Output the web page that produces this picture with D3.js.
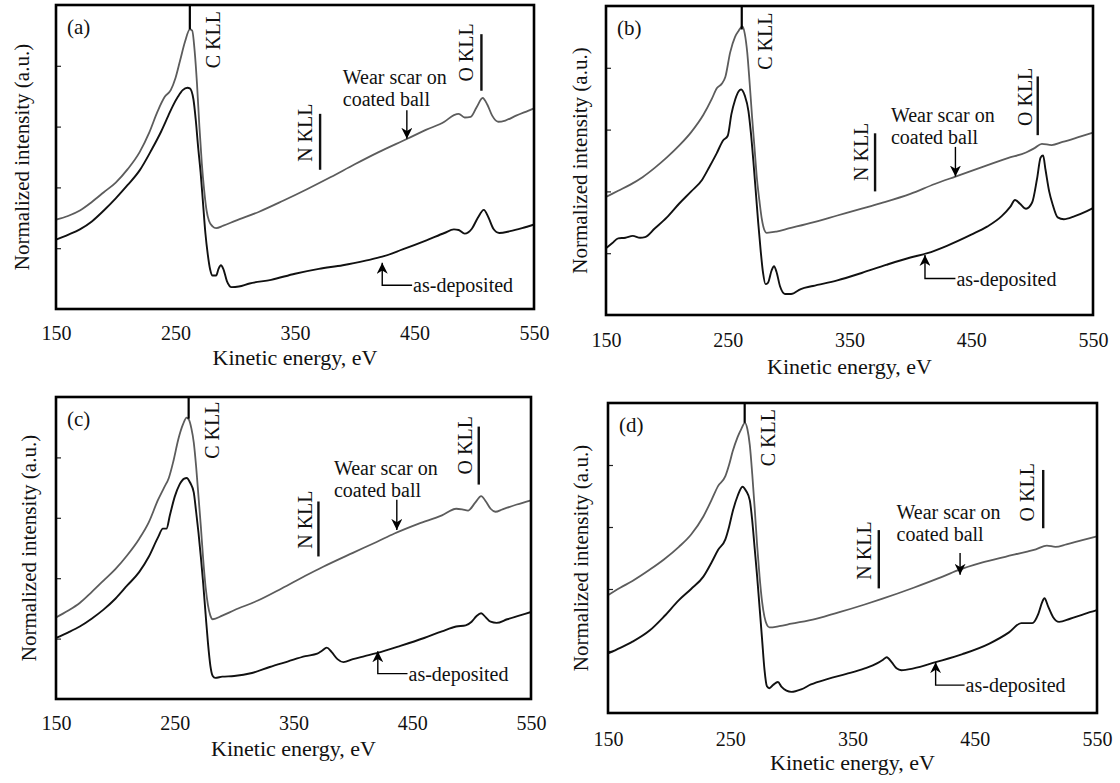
<!DOCTYPE html>
<html><head><meta charset="utf-8">
<script src="https://cdn.jsdelivr.net/npm/d3@7"></script>
<style>
html,body{margin:0;padding:0;background:#fff;}
svg{display:block;}
text{font-family:"Liberation Serif","Times New Roman",serif;fill:#111;}
</style></head>
<body>
<svg id="chart" width="1120" height="783"></svg>
<script>
// ---------- data (kinetic energy eV, normalized intensity a.u.) ----------
const xTickValues = [150, 250, 350, 450, 550];
const yTickValues = [1, 2, 3, 4];
const panelNames = ["(a)", "(b)", "(c)", "(d)"];
const xAxisTitle = "Kinetic energy, eV";
const yAxisTitle = "Normalized intensity (a.u.)";

const wearA = [[150,1.47],[160,1.53],[170,1.62],[180,1.76],[190,1.92],[200,2.08],[210,2.30],[220,2.58],[228,2.90],[235,3.25],[241,3.49],[246,3.60],[250,3.80],[254,4.10],[258,4.40],[262,4.60],[264,4.58],[266,4.25],[268,3.70],[270,3.00],[272,2.40],[274,1.95],[276,1.62],[278,1.45],[281,1.36],[284,1.33],[290,1.37],[300,1.45],[320,1.60],[340,1.78],[360,1.97],[380,2.17],[400,2.38],[420,2.58],[444,2.80],[460,2.95],[475,3.08],[483,3.19],[487,3.21],[492,3.15],[497,3.16],[502,3.32],[507,3.47],[511,3.36],[515,3.18],[520,3.08],[526,3.10],[535,3.18],[545,3.26],[550,3.30]];
const asdepA = [[150,1.14],[160,1.22],[170,1.31],[180,1.44],[190,1.62],[200,1.82],[210,2.04],[220,2.28],[230,2.62],[238,2.92],[244,3.18],[248,3.35],[252,3.49],[256,3.60],[260,3.64],[262,3.63],[265,3.45],[267,3.10],[269,2.65],[271,2.25],[273,1.75],[275,1.25],[277,0.90],[279,0.65],[281,0.55],[284,0.55],[286,0.66],[288,0.72],[290,0.66],[293,0.46],[297,0.36],[303,0.37],[312,0.42],[330,0.48],[350,0.58],[370,0.66],[390,0.72],[410,0.80],[423,0.86],[440,0.98],[460,1.13],[475,1.25],[483,1.31],[487,1.30],[492,1.24],[498,1.32],[503,1.50],[508,1.63],[512,1.50],[516,1.32],[521,1.25],[530,1.28],[540,1.33],[550,1.39]];

const wearB = [[150,1.91],[160,2.01],[170,2.11],[180,2.23],[190,2.38],[200,2.55],[210,2.74],[220,2.96],[230,3.24],[237,3.50],[241,3.67],[245,3.74],[248,3.85],[252,4.25],[256,4.50],[259,4.60],[262,4.67],[264,4.55],[266,4.25],[268,3.75],[270,3.20],[272,2.70],[274,2.20],[276,1.85],[278,1.55],[280,1.38],[282,1.33],[290,1.35],[300,1.40],[320,1.50],[340,1.61],[360,1.72],[376,1.81],[400,1.96],[420,2.12],[437,2.24],[460,2.40],[480,2.54],[495,2.63],[502,2.70],[508,2.77],[516,2.75],[525,2.80],[540,2.89],[550,2.95]];
const asdepB = [[150,1.08],[155,1.16],[160,1.24],[166,1.25],[172,1.28],[178,1.25],[182,1.26],[190,1.40],[200,1.58],[210,1.80],[220,2.00],[229,2.19],[235,2.40],[241,2.62],[246,2.82],[250,2.90],[253,3.25],[256,3.48],[259,3.62],[261,3.65],[264,3.55],[267,3.30],[269,2.95],[271,2.50],[273,2.00],[275,1.50],[277,1.05],[279,0.68],[281,0.50],[283,0.52],[286,0.72],[288,0.79],[290,0.70],[293,0.46],[297,0.34],[302,0.34],[310,0.42],[320,0.47],[340,0.56],[360,0.68],[380,0.81],[400,0.93],[414,1.00],[430,1.12],[450,1.30],[463,1.43],[475,1.60],[482,1.75],[486,1.86],[490,1.80],[495,1.72],[500,1.82],[504,2.20],[507,2.55],[509,2.58],[511,2.35],[514,2.00],[517,1.78],[521,1.58],[526,1.55],[535,1.60],[545,1.68],[550,1.73]];

const wearC = [[150,1.35],[160,1.46],[170,1.59],[180,1.77],[190,1.96],[200,2.15],[210,2.38],[220,2.65],[228,2.92],[236,3.30],[241,3.50],[245,3.66],[249,3.95],[253,4.30],[257,4.55],[260,4.66],[262,4.62],[264,4.48],[266,4.25],[268,3.85],[270,3.35],[272,2.85],[274,2.30],[276,1.85],[278,1.55],[280,1.38],[282,1.32],[290,1.38],[300,1.47],[320,1.63],[340,1.83],[360,2.04],[375,2.19],[400,2.42],[420,2.60],[435,2.74],[455,2.90],[475,3.04],[487,3.15],[492,3.14],[497,3.12],[503,3.25],[508,3.36],[512,3.27],[516,3.15],[520,3.10],[526,3.14],[538,3.22],[550,3.29]];
const asdepC = [[150,1.01],[160,1.10],[170,1.20],[180,1.33],[190,1.48],[200,1.66],[210,1.88],[220,2.10],[228,2.35],[236,2.68],[240,2.82],[243,2.82],[246,3.05],[250,3.35],[254,3.55],[258,3.65],[260,3.66],[263,3.58],[266,3.42],[268,3.10],[270,2.75],[272,2.35],[274,1.90],[276,1.40],[278,0.92],[280,0.55],[282,0.38],[284,0.35],[290,0.37],[300,0.38],[315,0.43],[330,0.53],[345,0.62],[360,0.71],[370,0.75],[374,0.80],[378,0.85],[382,0.78],[387,0.66],[392,0.61],[400,0.66],[410,0.71],[420,0.76],[440,0.88],[460,1.01],[475,1.12],[487,1.20],[495,1.22],[500,1.28],[504,1.37],[508,1.42],[512,1.35],[516,1.28],[521,1.26],[530,1.32],[540,1.38],[550,1.44]];

const wearD = [[150,1.90],[160,2.02],[170,2.13],[184,2.31],[196,2.48],[208,2.68],[218,2.88],[228,3.17],[235,3.45],[240,3.66],[246,3.82],[249,4.00],[252,4.22],[256,4.45],[259,4.58],[262,4.68],[264,4.58],[266,4.32],[268,3.85],[270,3.30],[272,2.70],[274,2.20],[276,1.80],[278,1.55],[280,1.42],[282,1.38],[290,1.40],[300,1.44],[320,1.52],[340,1.63],[360,1.75],[374,1.84],[400,2.02],[420,2.17],[436,2.30],[455,2.42],[475,2.52],[492,2.60],[500,2.64],[509,2.70],[516,2.68],[525,2.72],[538,2.79],[550,2.85]];
const asdepD = [[150,0.96],[160,1.05],[170,1.15],[184,1.33],[196,1.56],[208,1.82],[218,2.00],[228,2.20],[235,2.44],[240,2.63],[246,2.80],[249,3.00],[252,3.25],[256,3.50],[260,3.65],[263,3.58],[266,3.43],[268,3.10],[270,2.65],[272,2.20],[274,1.70],[276,1.20],[278,0.70],[280,0.43],[282,0.40],[285,0.45],[289,0.50],[292,0.42],[296,0.36],[300,0.34],[308,0.38],[316,0.46],[330,0.55],[345,0.63],[360,0.72],[370,0.80],[375,0.86],[378,0.90],[382,0.82],[386,0.72],[390,0.69],[400,0.72],[418,0.82],[440,0.95],[462,1.12],[478,1.30],[488,1.45],[497,1.45],[502,1.60],[505,1.78],[507,1.85],[510,1.72],[514,1.55],[519,1.47],[528,1.52],[540,1.60],[550,1.66]];

// annotation anchors in data units: [eV, intensity]
const cKllLine  = [[262,4.60],[261.5,4.62],[261.7,4.64],[261.8,4.68]];
const cKllText  = [[281,4.43],[280.5,4.43],[281,4.45],[281,4.44]];
const nKllLine  = [[371,3.21,2.29],[371,2.94,2.00],[371,3.27,2.36],[371.5,2.95,2.01]];
const nKllText  = [[358.6,2.90],[359.5,2.64],[360,2.97],[359.8,2.62]];
const oKllLine  = [[506,4.52,3.59],[504.6,3.86,2.91],[506,4.51,3.55],[506,3.92,2.98]];
const oKllText  = [[493,4.22],[494,3.53],[494,4.20],[493,3.56]];
const wearText  = [[390,3.81,3.45],[384,3.23,2.87],[384,3.82,3.46],[386,3.24,2.88]];
const wearArrow = [[443.6,3.27,2.80],[437,2.72,2.24],[437,3.30,2.80],[438,2.58,2.23]];
const asdepArrow= [[423,0.76,0.39,448],[412,0.97,0.59,437],[421,0.79,0.42,446],[418,0.82,0.45,441.7]];

const wearSeries = [wearA, wearB, wearC, wearD];
const asdepSeries = [asdepA, asdepB, asdepC, asdepD];

// ---------- layout ----------
const boxes = [
  {x0:56,  x1:534,  y0:5,   y1:309, ylab:22,  tpad:17, tlab:48},
  {x0:606, x1:1093, y0:6,   y1:315, ylab:580, tpad:18, tlab:51},
  {x0:56,  x1:531,  y0:397, y1:699, ylab:29,  tpad:17, tlab:49},
  {x0:608, x1:1097, y0:403, y1:713, ylab:581, tpad:19, tlab:49}
];

const svg = d3.select("#chart");
const defs = svg.append("defs");
defs.append("marker").attr("id","arr").attr("viewBox","0 0 10 10")
  .attr("refX",10).attr("refY",5).attr("markerWidth",11).attr("markerHeight",11)
  .attr("markerUnits","userSpaceOnUse").attr("orient","auto")
  .append("path").attr("d","M0,0 L10,5 L0,10 L3,5 Z").attr("fill","#000");

const FS = 20;

boxes.forEach((b, i) => {
  const x = d3.scaleLinear().domain([150,550]).range([b.x0,b.x1]);
  const y = d3.scaleLinear().domain([0,5]).range([b.y1,b.y0]);
  const g = svg.append("g");

  // y ticks (inward, no labels)
  const ya = g.append("g").attr("transform",`translate(${b.x0},0)`)
    .call(d3.axisLeft(y).tickValues(yTickValues).tickSizeInner(-5).tickSizeOuter(0).tickFormat(""));
  ya.select(".domain").remove();
  ya.selectAll("line").attr("stroke","#222").attr("stroke-width",1.2);

  // x tick labels
  const xa = g.append("g").attr("transform",`translate(0,${b.y1})`)
    .call(d3.axisBottom(x).tickValues(xTickValues).tickSize(0).tickPadding(b.tpad).tickFormat(d3.format("d")));
  xa.attr("font-family","Liberation Serif").attr("font-size",20);
  xa.select(".domain").remove();
  xa.selectAll("text").style("font-family","Liberation Serif").style("font-size","20px").attr("fill","#222");

  // axis titles
  g.append("text").attr("x",(b.x0+b.x1)/2).attr("y",b.y1+b.tlab).attr("dy","0.35em")
    .attr("text-anchor","middle").style("font-size","22px").text(xAxisTitle);
  g.append("text").attr("transform",`translate(${b.ylab},${(b.y0+b.y1)/2}) rotate(-90)`)
    .attr("dy","0.35em").attr("text-anchor","middle").style("font-size","21px").text(yAxisTitle);

  // curves
  const line = d3.line().x(d=>x(d[0])).y(d=>y(d[1])).curve(d3.curveMonotoneX);
  g.append("path").datum(wearSeries[i]).attr("d",line)
    .attr("fill","none").attr("stroke","#5c5c5c").attr("stroke-width",1.8);
  g.append("path").datum(asdepSeries[i]).attr("d",line)
    .attr("fill","none").attr("stroke","#111").attr("stroke-width",1.9);

  // frame
  g.append("rect").attr("x",b.x0).attr("y",b.y0).attr("width",b.x1-b.x0).attr("height",b.y1-b.y0)
    .attr("fill","none").attr("stroke","#000").attr("stroke-width",2.6);

  // panel label
  g.append("text").attr("x",b.x0+11).attr("y",b.y0+29).style("font-size","21px").text(panelNames[i]);

  // C KLL marker
  g.append("line").attr("x1",x(cKllLine[i][0])).attr("x2",x(cKllLine[i][0]))
    .attr("y1",y(5)).attr("y2",y(cKllLine[i][1])).attr("stroke","#000").attr("stroke-width",2.2);
  g.append("text").attr("transform",`translate(${x(cKllText[i][0])},${y(cKllText[i][1])}) rotate(-90)`)
    .attr("dy","0.35em").attr("text-anchor","middle").style("font-size",FS+"px").text("C KLL");

  // N KLL
  g.append("line").attr("x1",x(nKllLine[i][0])).attr("x2",x(nKllLine[i][0]))
    .attr("y1",y(nKllLine[i][1])).attr("y2",y(nKllLine[i][2])).attr("stroke","#111").attr("stroke-width",2.4);
  g.append("text").attr("transform",`translate(${x(nKllText[i][0])},${y(nKllText[i][1])}) rotate(-90)`)
    .attr("dy","0.35em").attr("text-anchor","middle").style("font-size",FS+"px").attr("fill","#333").text("N KLL");

  // O KLL
  g.append("line").attr("x1",x(oKllLine[i][0])).attr("x2",x(oKllLine[i][0]))
    .attr("y1",y(oKllLine[i][1])).attr("y2",y(oKllLine[i][2])).attr("stroke","#111").attr("stroke-width",2.4);
  g.append("text").attr("transform",`translate(${x(oKllText[i][0])},${y(oKllText[i][1])}) rotate(-90)`)
    .attr("dy","0.35em").attr("text-anchor","middle").style("font-size",FS+"px").text("O KLL");

  // wear scar label + arrow
  const wt = wearText[i];
  g.append("text").attr("x",x(wt[0])).attr("y",y(wt[1])).attr("dy","0.33em").style("font-size","20px").text("Wear scar on");
  g.append("text").attr("x",x(wt[0])).attr("y",y(wt[2])).attr("dy","0.33em").style("font-size","20px").text("coated ball");
  const wa = wearArrow[i];
  g.append("line").attr("x1",x(wa[0])).attr("x2",x(wa[0])).attr("y1",y(wa[1])).attr("y2",y(wa[2]))
    .attr("stroke","#000").attr("stroke-width",1.4).attr("marker-end","url(#arr)");

  // as-deposited label + elbow arrow
  const aa = asdepArrow[i];
  g.append("path").attr("d",`M${x(aa[3])},${y(aa[2])} H${x(aa[0])} V${y(aa[1])}`)
    .attr("fill","none").attr("stroke","#000").attr("stroke-width",1.4).attr("marker-end","url(#arr)");
  g.append("text").attr("x",x(aa[3])+1).attr("y",y(aa[2])).attr("dy","0.35em").style("font-size",FS+"px").text("as-deposited");
});
</script>
</body></html>
